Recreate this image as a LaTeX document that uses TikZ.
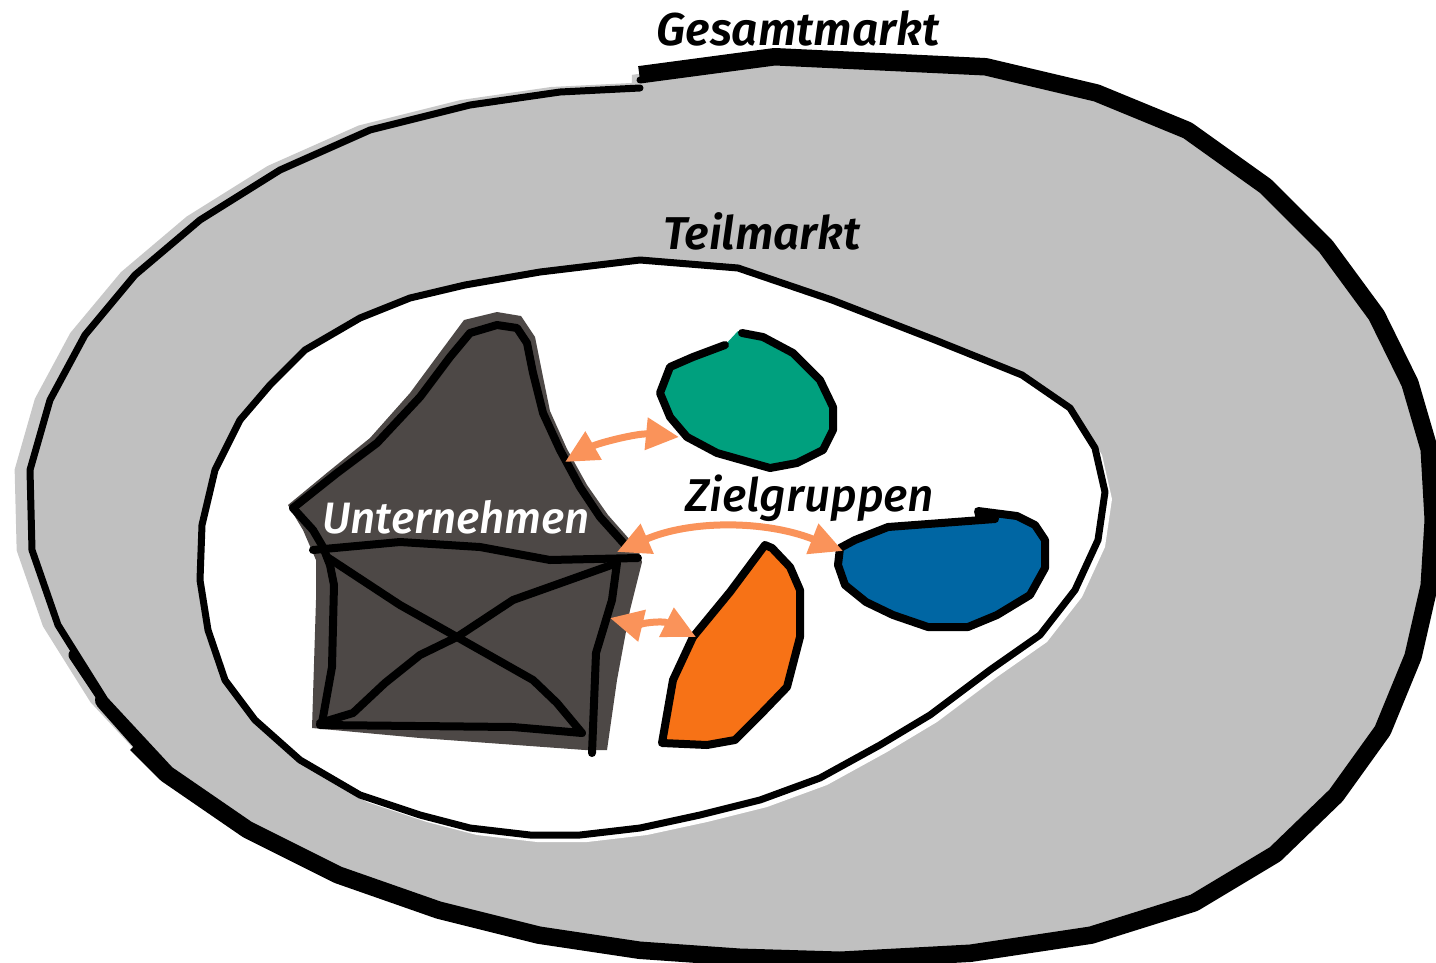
\documentclass[tikz,border=0pt]{standalone}
\usepackage{fontspec}
\setmainfont{Fira Sans}
\newfontfamily\labelfont{Fira Sans SemiBold Italic}
\newfontfamily\medfont{Fira Sans Medium Italic}
\usetikzlibrary{arrows.meta}
\definecolor{ringgray}{HTML}{C0C0C0}
\definecolor{shadegray}{HTML}{C8C8C8}
\definecolor{firmgray}{HTML}{4D4846}
\definecolor{tealc}{HTML}{00A07E}
\definecolor{bluec}{HTML}{0066A3}
\definecolor{orangec}{HTML}{F77216}
\definecolor{salmon}{HTML}{FA935A}
\tikzset{
  outline/.style={draw=black, line width=7pt, line join=round, line cap=round},
  blob/.style={draw=black, line width=8pt, line join=round, line cap=round},
  arr/.style={draw=salmon, line width=7pt, {Triangle[length=33pt,width=31pt]}-{Triangle[length=33pt,width=31pt]}},
  lbl/.style={font=\fontsize{46}{50}\labelfont, inner sep=0pt},
}
\begin{document}
\begin{tikzpicture}[x=1pt,y=-1pt]
\useasboundingbox (0,0) rectangle (1436,962);
% ---------- outer ring ----------
\def\outerpath{(640,80)--(775,62)--(985,72)--(1095,98)--(1185,135)--(1262,190)--(1322,250)--(1372,318)--(1405,385)--(1424,450)--(1428,520)--(1424,585)--(1408,655)--(1378,728)--(1332,792)--(1272,850)--(1192,898)--(1090,930)--(970,948)--(840,955)--(740,952)--(640,945)--(540,930)--(440,905)--(340,870)--(250,825)--(170,770)--(105,700)--(58,625)--(32,550)--(30,470)--(50,400)--(85,335)--(135,275)--(200,220)--(280,170)--(370,130)--(470,105)--(560,92)--(640,88)}
\fill[shadegray, shift={(-7,0)}, scale around={1.012:(727,510)}] \outerpath -- cycle;
\draw[black, line width=28pt, line join=round, line cap=butt]
  (640,80)--(775,62)--(985,72)--(1095,98)--(1185,135)--(1262,190)--(1322,250)--(1372,318)--(1405,385)--(1424,450)--(1428,520)--(1424,585)--(1408,655)--(1378,728)--(1332,792)--(1272,850)--(1192,898)--(1090,930)--(970,948)--(840,955)--(740,952)--(640,945)--(540,930)--(440,905)--(340,870)--(250,825)--(170,770)--(140,740);
\draw[black, line width=20pt, line join=round, line cap=round] (145,745)--(105,700);
\draw[black, line width=13pt, line join=round, line cap=round] (105,700)--(75,655);
\fill[ringgray] \outerpath -- cycle;
\draw[outline] (640,80)--(775,62)--(985,72)--(1095,98)--(1185,135)--(1262,190)--(1322,250)--(1372,318)--(1405,385)--(1424,450)--(1428,520)--(1424,585)--(1408,655)--(1378,728)--(1332,792)--(1272,850)--(1192,898)--(1090,930)--(970,948)--(840,955)--(740,952)--(640,945)--(540,930)--(440,905)--(340,870)--(250,825)--(170,770)--(105,700)--(58,625)--(32,550)--(30,470)--(50,400)--(85,335)--(135,275)--(200,220)--(280,170)--(370,130)--(470,105)--(560,92)--(640,88);
% ---------- inner region ----------
\def\innerpath{(640,260)--(738,268)--(832,300)--(935,340)--(1022,375)--(1070,408)--(1095,448)--(1105,492)--(1098,540)--(1075,590)--(1040,635)--(990,670)--(930,715)--(880,745)--(820,778)--(760,800)--(700,815)--(640,828)--(580,835)--(530,835)--(470,828)--(420,815)--(360,795)--(300,760)--(255,720)--(225,680)--(208,630)--(200,580)--(202,525)--(215,470)--(240,420)--(270,385)--(305,350)--(360,318)--(410,298)--(465,285)--(540,272)}
\fill[white, shift={(7,7)}] \innerpath -- cycle;
\fill[white] \innerpath -- cycle;
\draw[outline] \innerpath -- cycle;
% ---------- Unternehmen ----------
\fill[firmgray] (288,505)--(328,472)--(370,438)--(410,393)--(441,351)--(464,320)--(497,312)--(521,316)--(535,337)--(542,372)--(550,411)--(567,449)--(587,485)--(608,515)--(638,549)--(642,562)--(630,610)--(617,680)--(607,750)--(585,750)--(420,738)--(312,728)--(316,600)--(316,560)--(303,530)--cycle;
\draw[blob] (293,508)--(337,473)--(377,443)--(420,397)--(450,357)--(470,333)--(497,325)--(517,328)--(527,343)--(533,373)--(543,413)--(560,450)--(580,487)--(600,517)--(627,547);
\draw[blob] (293,508)--(313,530)--(323,547)--(330,565)--(334,585)--(332,667)--(322,723);
\draw[blob] (313,550)--(400,542)--(480,547)--(550,560)--(638,558);
\draw[blob] (320,725)--(513,727)--(582,733);
\draw[blob] (617,563)--(612,600)--(596,653)--(592,753);
\draw[blob] (617,563)--(513,600)--(457,637)--(420,655)--(385,683)--(353,713)--(320,723);
\draw[blob] (327,557)--(400,605)--(457,637)--(533,680)--(557,703)--(582,733);
\node[inner sep=0pt, font=\fontsize{44}{48}\medfont, text=white] (firm) at (456,517) {Unternehmen};
% ---------- target groups ----------
\fill[tealc] (742,333)--(763,337)--(793,353)--(820,380)--(833,407)--(833,430)--(823,450)--(797,463)--(770,468)--(717,453)--(687,437)--(670,417)--(660,393)--(670,367)--(693,357)--(725,345)--(738,331)--cycle;
\draw[blob] (742,333)--(763,337)--(793,353)--(820,380)--(833,407)--(833,430)--(823,450)--(797,463)--(770,468)--(717,453)--(687,437)--(670,417)--(660,393)--(670,367)--(693,357)--(725,345);
\fill[bluec] (995,519)--(888,527)--(855,540)--(840,548)--(838,565)--(845,585)--(866,602)--(893,615)--(928,627)--(968,627)--(997,615)--(1030,595)--(1045,568)--(1045,540)--(1035,525)--(1017,516)--(978,511)--cycle;
\draw[blob] (995,519)--(888,527)--(855,540)--(840,548)--(838,565)--(845,585)--(866,602)--(893,615)--(928,627)--(968,627)--(997,615)--(1030,595)--(1045,568)--(1045,540)--(1035,525)--(1017,516)--(978,511)--(980,519);
\fill[orangec] (765,545)--(730,592)--(693,637)--(673,680)--(662,743)--(707,745)--(735,740)--(760,715)--(787,687)--(800,637)--(800,590)--(790,567)--(772,548)--cycle;
\draw[blob] (765,545)--(730,592)--(693,637)--(673,680)--(662,743)--(707,745)--(735,740)--(760,715)--(787,687)--(800,637)--(800,590)--(790,567)--(772,548)--cycle;
% ---------- labels ----------
\node[lbl] (gesamt) at (798,28) {Gesamtmarkt};
\node[lbl] (teil) at (762,231) {Teilmarkt};
\node[inner sep=0pt, font=\fontsize{46}{50}\medfont] (ziel) at (810,498) {Zielgruppen};
% ---------- arrows ----------
\coordinate (a1) at (565,462);
\coordinate (t1) at (679,437);
\coordinate (a2) at (617,552);
\coordinate (b2) at (843,551);
\coordinate (a3) at (610,618);
\coordinate (o3) at (696,637);
\draw[arr] (a1) .. controls (598,443) and (638,433) .. (t1);
\draw[arr] (a2) .. controls (690,520) and (765,520) .. (b2);
\draw[arr] (a3) .. controls (635,624) and (662,620) .. (o3);
\end{tikzpicture}
\end{document}
